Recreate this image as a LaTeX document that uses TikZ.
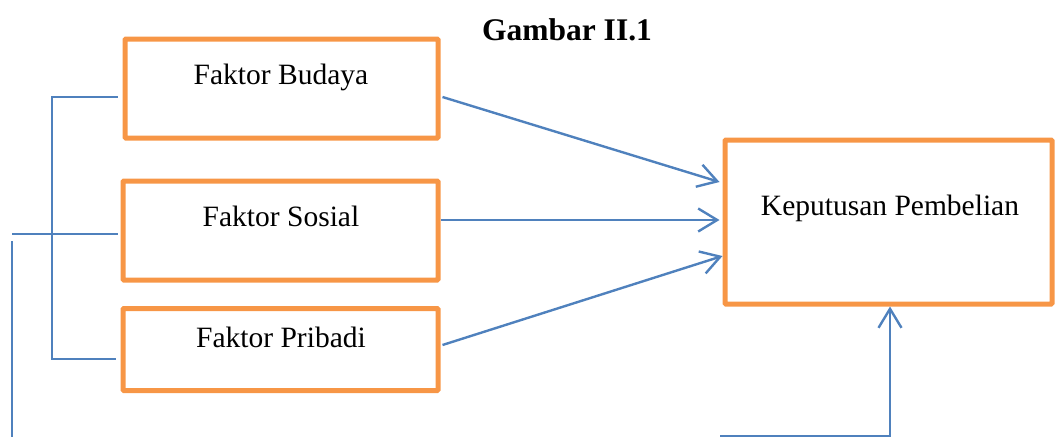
\documentclass[tikz,border=0pt]{standalone}
\usepackage{fontspec}
\setmainfont{Liberation Serif}
\usetikzlibrary{arrows.meta,calc}
\definecolor{boxorange}{HTML}{F79646}
\definecolor{lineblue}{HTML}{4F81BD}
\tikzset{
  fbox/.style={draw=boxorange,line width=5pt,rounded corners=1pt,inner sep=0pt},
  lbl/.style={font=\fontsize{29.5}{34}\selectfont,inner sep=0pt},
  conn/.style={draw=lineblue,line width=2.4pt},
  arr/.style={conn,-{Straight Barb[length=19pt,width=23pt,line width=2.4pt]}}
}
\begin{document}
\begin{tikzpicture}[x=1pt,y=-1pt]
\useasboundingbox (0,0) rectangle (1055,437);
% title
\node[lbl,font=\fontsize{31.5}{34}\selectfont\bfseries] (title) at (567,30) {Gambar II.1};
% boxes
\node[fbox,minimum width=313pt,minimum height=99pt] (budaya) at (281.5,88.5) {};
\node[fbox,minimum width=315pt,minimum height=99pt] (sosial) at (280.5,230.5) {};
\node[fbox,minimum width=315pt,minimum height=82pt] (pribadi) at (280.5,349.5) {};
\node[fbox,minimum width=327pt,minimum height=164pt] (keputusan) at (888.5,222) {};
% labels
\node[lbl] (tb) at (281,77) {Faktor Budaya};
\node[lbl] (ts) at (281,216) {Faktor Sosial};
\node[lbl] (tp) at (281,337) {Faktor Pribadi};
\node[lbl] (tk) at (890,208) {Keputusan Pembelian};
% arrows to decision
\draw[arr] ($(budaya.east)+(2,8.5)$) -- ($(keputusan.west)+(-3,-40)$);
\draw[arr] ($(sosial.east)+(0,-10.5)$) -- ($(keputusan.west)+(-3,-2)$);
\draw[arr] ($(pribadi.east)+(2,-4.5)$) -- ($(keputusan.west)+(0,34)$);
% left bracket
\coordinate (bl) at (52,97);
\coordinate (br) at (52,359);
\coordinate (mid) at (12,234);
\coordinate (lowl) at (12,241);
\coordinate (lowb) at (12,437);
\draw[conn] ($(budaya.west)+(-5,8.5)$) -- (bl) -- (br) -- ($(pribadi.west)+(-5,9.5)$);
\draw[conn] ($(sosial.west)+(-3,3.5)$) -- (mid);
\draw[conn] (lowl) -- (lowb);
% bottom feedback line
\coordinate (bstart) at (720,436);
\coordinate (bcorner) at (890,436);
\draw[arr] (bstart) -- (bcorner) -- (keputusan.south -| bcorner);
\end{tikzpicture}
\end{document}
